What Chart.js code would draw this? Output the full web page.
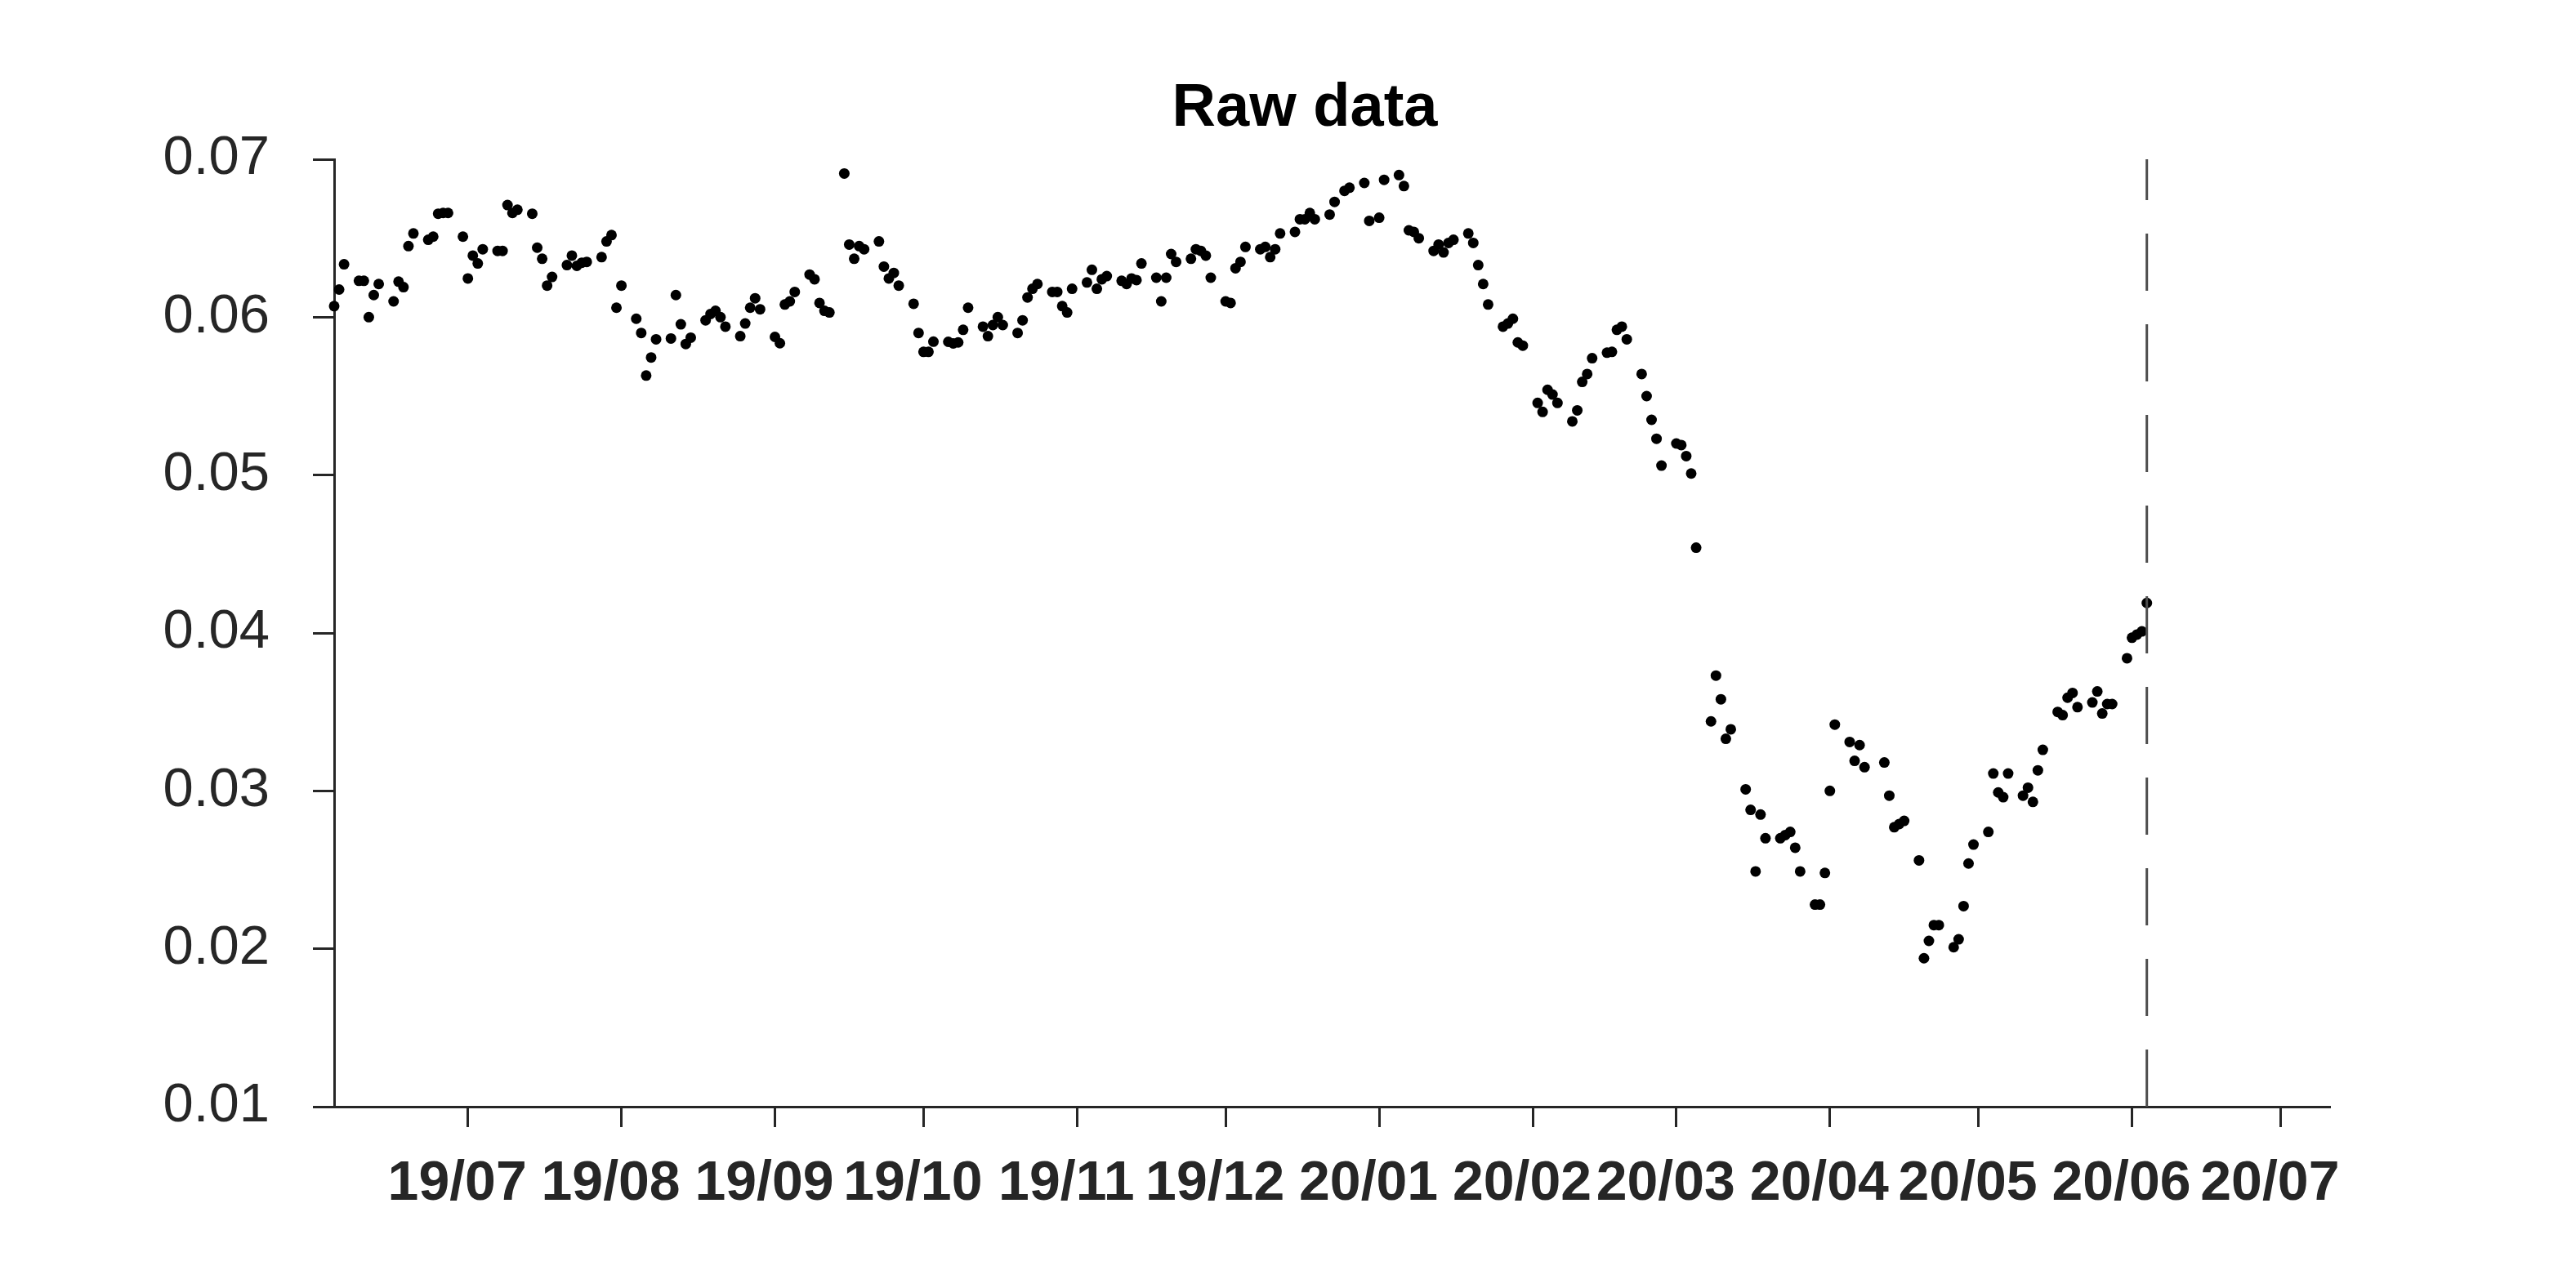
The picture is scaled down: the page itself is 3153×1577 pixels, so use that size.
<!DOCTYPE html>
<html>
<head>
<meta charset="utf-8">
<script src="https://cdn.jsdelivr.net/npm/chart.js@4.4.1/dist/chart.umd.min.js"></script>
<style>
  html, body { margin: 0; padding: 0; background: #ffffff; overflow: hidden; }
  canvas { display: block; }
</style>
</head>
<body>
<canvas id="c" width="3153" height="1577"></canvas>
<script>
// ---- DATA ----
// x: days since 2019-06-04, y: raw value
const dayOffsets = [
  0,1,2,5,6,7,8,9,12,13,14,15,16,19,20,21,22,23,26,27,28,29,30,33,34,35,36,37,
  40,41,42,43,44,47,48,49,50,51,54,55,56,57,58,61,62,63,64,65,68,69,70,71,72,
  75,76,77,78,79,82,83,84,85,86,89,90,91,92,93,96,97,98,99,100,103,104,105,106,107,
  110,111,112,113,114,117,118,119,120,121,124,125,126,127,128,131,132,133,134,135,
  138,139,140,141,142,145,146,147,148,149,152,153,154,155,156,159,160,161,162,163,
  166,167,168,169,170,173,174,175,176,177,180,181,182,183,184,187,188,189,190,191,
  194,195,196,197,198,201,202,204,205,208,209,211,212,215,216,217,218,219,
  222,223,224,225,226,229,230,231,232,233,236,237,238,239,240,243,244,245,246,247,
  250,251,252,253,254,257,258,259,260,261,264,265,266,267,268,271,272,273,274,275,
  278,279,280,281,282,285,286,287,288,289,292,293,294,295,296,299,300,301,302,303,
  306,307,308,309,313,314,315,316,317,320,321,322,323,324,327,328,329,330,331,
  334,335,336,337,338,341,342,343,344,345,348,349,350,351,352,355,356,357,358,359,
  362,363,364,365,366
];
const rawValues = [
  0.0607,0.06175,0.06335,0.0623,0.0623,0.0600,0.0614,0.0621,0.0610,0.06225,0.0619,0.0645,0.0653,
  0.0649,0.0651,0.06655,0.0666,0.0666,0.0651,0.06245,0.0639,0.0634,0.0643,0.0642,0.0642,0.0671,0.0666,0.0668,
  0.06655,0.0644,0.0637,0.0620,0.06255,0.0633,0.0639,0.06325,0.06345,0.0635,0.0638,0.0648,0.0652,0.0606,0.0620,
  0.0599,0.0590,0.0563,0.05745,0.0586,0.05865,0.0614,0.05955,0.0583,0.0587,
  0.0598,0.0602,0.0604,0.0600,0.0594,0.0588,0.0596,0.0606,0.0612,0.0605,0.05875,0.05835,0.0608,0.0610,0.0616,
  0.0627,0.0624,0.0609,0.0604,0.0603,0.0691,0.0646,0.0637,0.0645,0.0643,
  0.0648,0.0632,0.06245,0.0628,0.0620,0.06085,0.0590,0.0578,0.0578,0.05845,0.05844,0.05834,0.0584,0.0592,0.0606,
  0.0594,0.0588,0.0595,0.0600,0.0595,
  0.0590,0.0598,0.06125,0.0618,0.0621,0.0616,0.0616,0.0607,0.0603,0.0618,0.0622,0.0630,0.0618,0.0624,0.0626,
  0.0623,0.0621,0.06245,0.06235,0.0634,
  0.0625,0.0610,0.0625,0.0640,0.0635,0.0637,0.0643,0.0642,0.0639,0.0625,0.0610,0.0609,0.0631,0.0635,0.06445,
  0.0643,0.06445,0.0638,0.0643,0.0653,
  0.0654,0.0662,0.0662,0.0666,0.0662,0.0665,0.0673,0.0680,0.0682,0.0685,0.0661,0.0663,0.0687,0.0690,0.0683,0.0655,0.0654,0.0650,
  0.0642,0.0646,0.0641,0.0647,0.0649,0.0653,0.0647,0.0633,0.0621,0.0608,0.0594,0.0596,0.0599,0.0584,0.0582,
  0.05457,0.0540,0.0554,0.0551,0.05457,
  0.0534,0.0541,0.0559,0.0564,0.0574,0.05775,0.0578,0.0592,0.0594,0.0586,0.0564,0.0550,0.0535,0.0523,0.0506,
  0.0520,0.0519,0.0512,0.0501,0.0454,
  0.0344,0.0373,0.0358,0.0333,0.0339,0.0301,0.0288,0.0249,0.0285,0.0270,0.0270,0.0272,0.0274,0.0264,0.0249,
  0.0228,0.0228,0.0248,0.0300,0.0342,
  0.0331,0.0319,0.0329,0.0315,0.0318,0.0297,0.0277,0.0279,0.0281,0.0256,0.0194,0.0205,0.0215,0.0215,
  0.0201,0.0206,0.0227,0.0254,0.0266,
  0.0274,0.0311,0.0299,0.0296,0.0311,0.0297,0.0302,0.0293,0.0313,0.0326,0.0350,0.0348,0.0359,0.0362,0.0353,
  0.0356,0.0363,0.0349,0.0355,0.0355,
  0.0384,0.0397,0.0399,0.0401,0.0419
];
// month-start tick positions (days since 2019-06-04) and their labels
const monthTickDays = [27,58,89,119,150,180,211,242,271,302,332,363,393];
const monthTickLabels = ['19/07','19/08','19/09','19/10','19/11','19/12','20/01','20/02','20/03','20/04','20/05','20/06','20/07'];
const yTickValues = [0.01,0.02,0.03,0.04,0.05,0.06,0.07];
const xRange = [0, 403];
const cutoffDay = 366; // dashed marker at last observation
const chartTitle = 'Raw data';

// ---- CHART ----
const points = dayOffsets.map((d, i) => ({ x: d, y: rawValues[i] }));
const cutoffLine = [
  { x: cutoffDay, y: yTickValues[0] },
  { x: cutoffDay, y: yTickValues[yTickValues.length - 1] }
];

const AXIS = '#262626';
const titlePlugin = {
  id: 'ownTitle',
  afterDraw(chart) {
    const ctx = chart.ctx;
    ctx.save();
    ctx.font = 'bold 74px "Liberation Sans", Arial, sans-serif';
    ctx.fillStyle = '#000000';
    ctx.textAlign = 'center';
    ctx.textBaseline = 'alphabetic';
    ctx.fillText(chartTitle, 1597, 154);
    ctx.restore();
  }
};

new Chart(document.getElementById('c'), {
  type: 'scatter',
  data: {
    datasets: [
      {
        label: 'cutoff',
        type: 'line',
        data: cutoffLine,
        borderColor: '#4d4d4d',
        borderWidth: 3,
        borderDash: [70, 41],
        pointRadius: 0,
        fill: false,
        order: 0,
        clip: false
      },
      {
        label: 'raw',
        data: points,
        backgroundColor: '#000000',
        borderWidth: 0,
        pointRadius: 6.5,
        pointHoverRadius: 6.5,
        order: 1,
        clip: false
      }
    ]
  },
  options: {
    responsive: false,
    animation: false,
    events: [],
    layout: { padding: { left: 0, right: 301, top: 195, bottom: 0 } },
    plugins: {
      legend: { display: false },
      tooltip: { enabled: false },
      title: { display: false }
    },
    scales: {
      x: {
        type: 'linear',
        position: 'bottom',
        min: xRange[0],
        max: xRange[1],
        afterBuildTicks(scale) {
          scale.ticks = monthTickDays.map(v => ({ value: v }));
        },
        afterFit(scale) { scale.height = 222; },
        border: { display: true, color: AXIS, width: 3 },
        grid: {
          display: true,
          drawOnChartArea: false,
          drawTicks: true,
          tickLength: 25,
          tickWidth: 3,
          tickColor: AXIS
        },
        ticks: {
          autoSkip: false,
          maxRotation: 0,
          minRotation: 0,
          padding: 29,
          labelOffset: -13,
          color: AXIS,
          font: { family: '"Liberation Sans", Arial, sans-serif', size: 68, weight: 'bold' },
          callback(value) {
            const i = monthTickDays.indexOf(value);
            return i >= 0 ? monthTickLabels[i] : '';
          }
        }
      },
      y: {
        type: 'linear',
        position: 'left',
        min: yTickValues[0],
        max: yTickValues[yTickValues.length - 1],
        afterBuildTicks(scale) {
          scale.ticks = yTickValues.map(v => ({ value: v }));
        },
        afterFit(scale) { scale.width = 409; },
        border: { display: true, color: AXIS, width: 3 },
        grid: {
          display: true,
          drawOnChartArea: false,
          drawTicks: true,
          tickLength: 26,
          tickWidth: 3,
          tickColor: AXIS
        },
        ticks: {
          padding: 53,
          color: AXIS,
          font: { family: '"Liberation Sans", Arial, sans-serif', size: 67, weight: 'normal' },
          callback(value) { return Number(value).toFixed(2); }
        }
      }
    }
  },
  plugins: [titlePlugin]
});
</script>
</body>
</html>
